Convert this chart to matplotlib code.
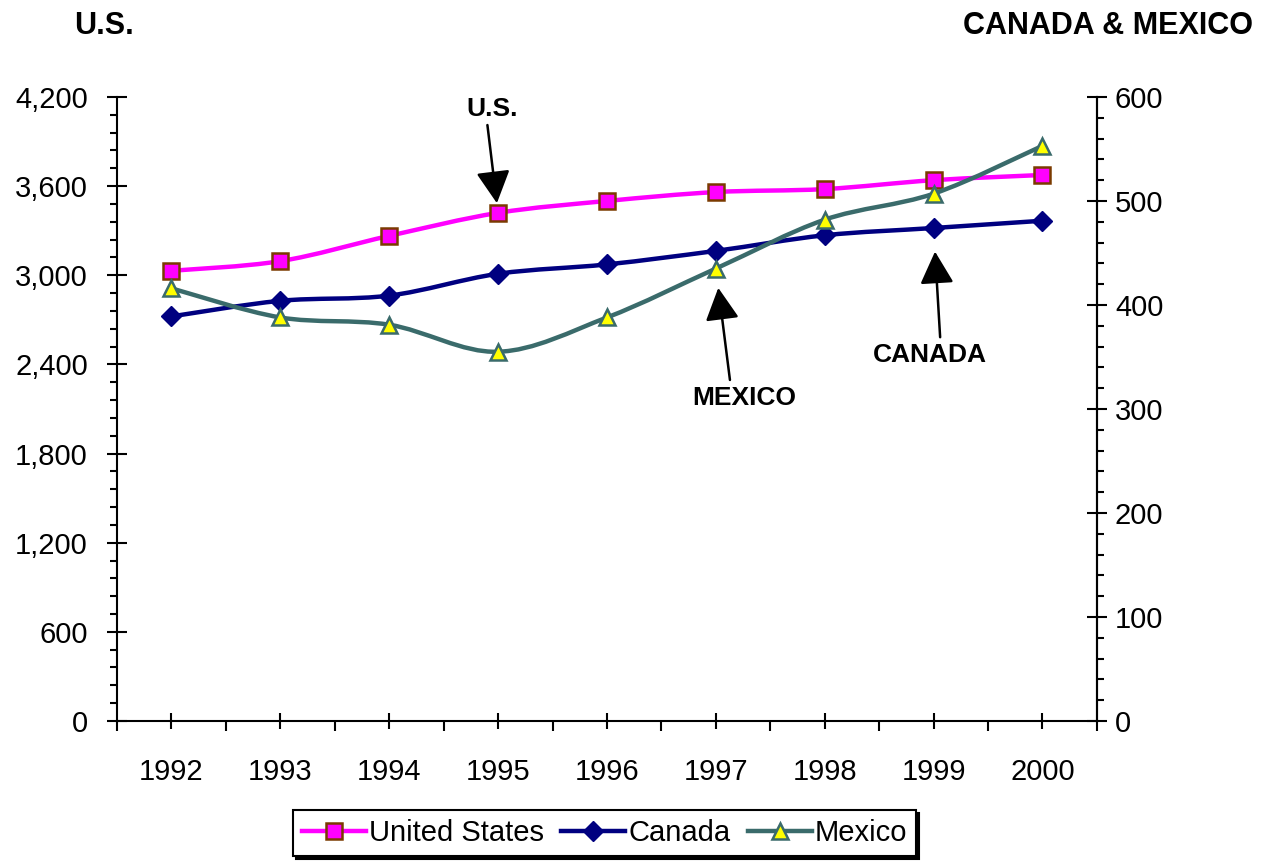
import numpy as np
import matplotlib.pyplot as plt
from matplotlib.path import Path
from matplotlib.patches import PathPatch
from matplotlib.lines import Line2D
from matplotlib.ticker import MultipleLocator, FixedLocator, FuncFormatter

plt.rcParams['font.family'] = ['Liberation Sans', 'DejaVu Sans']

years = ['1992', '1993', '1994', '1995', '1996', '1997', '1998', '1999', '2000']
us = [3030, 3095, 3265, 3420, 3500, 3560, 3580, 3640, 3675]          # left axis
canada = [389, 404, 409, 430, 439, 452, 467, 474, 481]              # right axis
mexico = [416, 388, 381, 355, 388, 435, 482, 507, 553]              # right axis

c_us, c_us_edge = '#FF00FF', '#7A3A00'
c_ca = '#000080'
c_mx, c_mx_face = '#3A6B6B', '#FFFF00'


def smooth_path(xs, ys):
    # Excel style smoothed line: cubic bezier through the points
    p = np.column_stack([xs, ys]).astype(float)
    n = len(p)
    verts = [p[0]]
    codes = [Path.MOVETO]
    for i in range(n - 1):
        p0 = p[i - 1] if i > 0 else p[i]
        p3 = p[i + 2] if i + 2 < n else p[i + 1]
        c1 = p[i] + (p[i + 1] - p0) / 6
        c2 = p[i + 1] - (p3 - p[i]) / 6
        verts += [c1, c2, p[i + 1]]
        codes += [Path.CURVE4] * 3
    return Path(verts, codes)


fig = plt.figure(figsize=(12.62, 8.65), dpi=100)
ax = fig.add_axes([0.0927, 0.1665, 0.7765, 0.7214])
ax2 = ax.twinx()

x = np.arange(len(years))

ax.add_patch(PathPatch(smooth_path(x, us), fill=False, edgecolor=c_us, lw=3.2, zorder=3))
ax.plot(x, us, 's', ms=11, mfc=c_us, mec=c_us_edge, mew=1.8, zorder=4)

ax2.add_patch(PathPatch(smooth_path(x, canada), fill=False, edgecolor=c_ca, lw=3.2, zorder=3))
ax2.plot(x, canada, 'D', ms=10, mfc=c_ca, mec=c_ca, zorder=4)
ax2.add_patch(PathPatch(smooth_path(x, mexico), fill=False, edgecolor=c_mx, lw=3.2, zorder=3))
ax2.plot(x, mexico, '^', ms=12, mfc=c_mx_face, mec=c_mx, mew=1.8, zorder=4)

ax.set_xlim(-0.5, len(years) - 0.5)
ax.set_ylim(0, 4200)
ax2.set_ylim(0, 600)

ax.set_xticks(x)
ax.set_xticklabels(years)
ax.xaxis.set_minor_locator(FixedLocator(np.arange(-0.5, len(years), 1.0)))
ax.tick_params(axis='x', which='major', direction='inout', length=11.5, width=1.5,
               labelsize=21, pad=21)
ax.tick_params(axis='x', which='minor', direction='out', length=7, width=1.5)

ax.yaxis.set_major_locator(MultipleLocator(600))
ax.yaxis.set_minor_locator(MultipleLocator(120))
ax.yaxis.set_major_formatter(FuncFormatter(lambda v, p: f'{int(v):,}'))
ax.tick_params(axis='y', which='major', direction='inout', length=14, width=1.5,
               labelsize=21, pad=14)
ax.tick_params(axis='y', which='minor', direction='out', length=5, width=1.5)

ax2.yaxis.set_major_locator(MultipleLocator(100))
ax2.yaxis.set_minor_locator(MultipleLocator(20))
ax2.tick_params(axis='y', which='major', direction='inout', length=14, width=1.5,
                labelsize=21, pad=6)
ax2.tick_params(axis='y', which='minor', direction='out', length=5, width=1.5)

for a in (ax, ax2):
    a.spines['top'].set_visible(False)
    for s in ('left', 'right', 'bottom'):
        a.spines[s].set_linewidth(1.5)
ax2.spines['left'].set_visible(False)
ax2.spines['bottom'].set_visible(False)

# axis titles
fig.text(0.059, 0.97, 'U.S.', fontsize=22, fontweight='bold', va='center', ha='left')
fig.text(0.993, 0.97, 'CANADA & MEXICO', fontsize=22, fontweight='bold', va='center', ha='right')

# annotations: label text, then an arrow from just below/above it to the marker
def pointer(axis, label, xy, text_at, tail_at, shrink):
    axis.text(*text_at, label, transform=axis.transAxes, fontsize=19,
              fontweight='bold', ha='center', va='center')
    axis.annotate('', xy=xy, xytext=tail_at, textcoords='axes fraction',
                  arrowprops=dict(arrowstyle='-|>,head_length=1.05,head_width=0.55',
                                  color='black', lw=1.8, mutation_scale=19,
                                  shrinkA=0, shrinkB=shrink))


pointer(ax, 'U.S.', (3, us[3]), (0.383, 0.98), (0.378, 0.955), 7)
pointer(ax2, 'MEXICO', (5, mexico[5]), (0.64, 0.518), (0.6255, 0.5465), 14)
pointer(ax2, 'CANADA', (7, canada[7]), (0.83, 0.587), (0.840, 0.615), 17)

handles = [
    Line2D([], [], color=c_us, lw=3.2, marker='s', ms=11, mfc=c_us, mec=c_us_edge, mew=1.8),
    Line2D([], [], color=c_ca, lw=3.2, marker='D', ms=10, mfc=c_ca, mec=c_ca),
    Line2D([], [], color=c_mx, lw=3.2, marker='^', ms=12, mfc=c_mx_face, mec=c_mx, mew=1.8),
]
leg = fig.legend(handles, ['United States', 'Canada', 'Mexico'], loc='center',
                 bbox_to_anchor=(0.479, 0.037), ncol=3, fontsize=21, frameon=True,
                 fancybox=False, shadow={'color': 'black', 'alpha': 1},
                 handlelength=2.2, handletextpad=0.1, columnspacing=0.6,
                 borderpad=0.3, borderaxespad=0)
leg.get_frame().set_edgecolor('black')
leg.get_frame().set_linewidth(1.5)

fig.savefig('out.png', dpi=100)
